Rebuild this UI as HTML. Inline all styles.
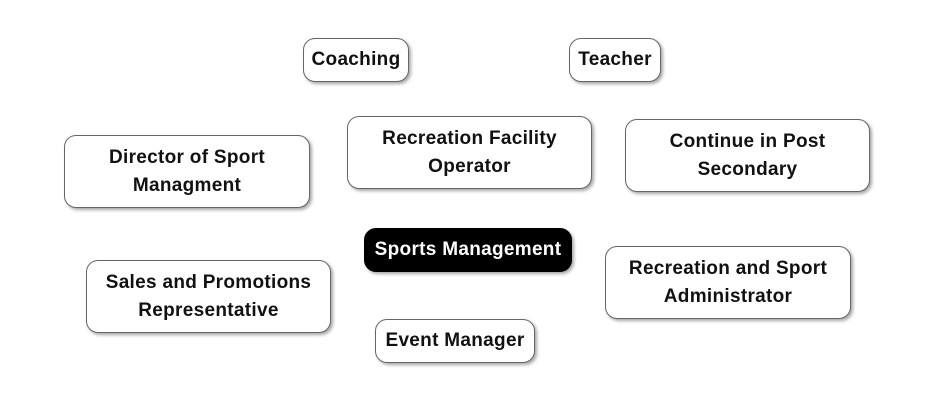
<!DOCTYPE html>
<html><head><style>
body{margin:0;width:947px;height:406px;background:#fff;position:relative;overflow:hidden;font-family:"Liberation Sans",Arial,sans-serif;}
.b{position:absolute;box-sizing:border-box;border:1.5px solid #666;border-radius:12px;background:#fff;box-shadow:2px 2px 3px rgba(0,0,0,0.35);display:flex;align-items:center;justify-content:center;text-align:center;font-weight:bold;font-size:19px;letter-spacing:0.3px;line-height:28px;color:#111;}
.d{background:#000;color:#fff;border-color:#000;}
</style></head><body>
<div class="b" style="left:303px;top:38px;width:106px;height:44px">Coaching</div>
<div class="b" style="left:569px;top:38px;width:92px;height:44px">Teacher</div>
<div class="b" style="left:347px;top:116px;width:245px;height:73px">Recreation Facility<br>Operator</div>
<div class="b" style="left:64px;top:135px;width:246px;height:73px">Director of Sport<br>Managment</div>
<div class="b" style="left:625px;top:119px;width:245px;height:73px">Continue in Post<br>Secondary</div>
<div class="b d" style="left:364px;top:228px;width:208px;height:44px">Sports Management</div>
<div class="b" style="left:86px;top:260px;width:245px;height:73px">Sales and Promotions<br>Representative</div>
<div class="b" style="left:605px;top:246px;width:246px;height:73px">Recreation and Sport<br>Administrator</div>
<div class="b" style="left:375px;top:319px;width:160px;height:44px">Event Manager</div>
</body></html>
